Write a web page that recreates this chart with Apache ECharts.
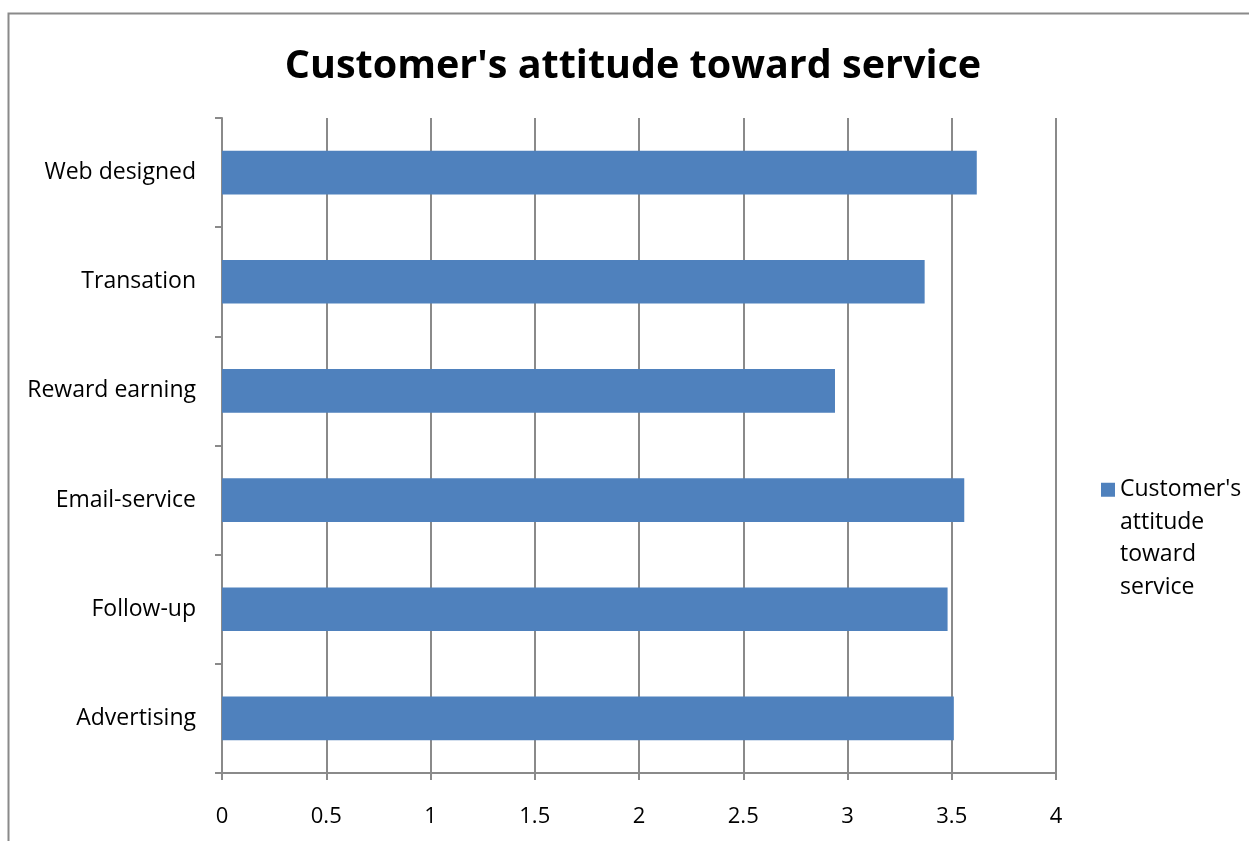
<!DOCTYPE html>
<html>
<head>
<meta charset="utf-8">
<script src="https://cdn.jsdelivr.net/npm/echarts@6/dist/echarts.min.js"></script>
<style>
  html, body { margin: 0; padding: 0; background: #ffffff; }
  #chart { width: 1249px; height: 841px; }
</style>
</head>
<body>
<div id="chart"></div>
<script>
// Service aspects, listed bottom-to-top as the category axis draws them
const categories = ['Advertising', 'Follow-up', 'Email-service', 'Reward earning', 'Transation', 'Web designed'];
// Mean attitude score for each aspect
const scores = [3.51, 3.48, 3.56, 2.94, 3.37, 3.62];
const seriesName = "Customer's attitude toward service";
const xTicks = [0, 0.5, 1, 1.5, 2, 2.5, 3, 3.5, 4];

const FONT = '"Open Sans", sans-serif';
const chart = echarts.init(document.getElementById('chart'), null, { renderer: 'canvas' });

chart.setOption({
  backgroundColor: '#ffffff',
  animation: false,
  title: {
    text: seriesName,
    left: 628,
    textAlign: 'center',
    top: 42,
    textStyle: { fontFamily: FONT, fontWeight: 'bold', fontSize: 39.5, color: '#000000' }
  },
  graphic: [{
    type: 'rect',
    shape: { x: 8.5, y: 13.5, width: 1400, height: 1000 },
    style: { fill: 'none', stroke: '#8a8a8a', lineWidth: 2 },
    silent: true,
    z: -1
  }],
  legend: {
    left: 1101,
    top: 376,
    padding: 0,
    orient: 'vertical',
    itemWidth: 14,
    itemHeight: 14,
    itemGap: 0,
    icon: 'rect',
    // three leading blank lines keep the first wrapped line level with the swatch
    formatter: () => "\n\n\nCustomer's\nattitude\ntoward\nservice",
    textStyle: { fontFamily: FONT, fontSize: 23, color: '#000000', lineHeight: 32.5 },
    data: [seriesName]
  },
  grid: { left: 222, right: 193, top: 118, bottom: 68, containLabel: false },
  xAxis: {
    type: 'value',
    min: 0,
    max: 4,
    interval: 0.5,
    axisLine: { show: true, lineStyle: { color: '#8a8a8a', width: 2 } },
    axisTick: { show: true, length: 7, lineStyle: { color: '#8a8a8a', width: 2 } },
    splitLine: { show: true, lineStyle: { color: '#8a8a8a', width: 2 } },
    axisLabel: {
      margin: 33,
      fontFamily: FONT,
      fontSize: 22,
      color: '#000000',
      formatter: v => String(xTicks.find(t => Math.abs(t - v) < 1e-9) ?? v)
    }
  },
  yAxis: {
    type: 'category',
    data: categories,
    axisLine: { show: true, lineStyle: { color: '#8a8a8a', width: 2 } },
    axisTick: { show: true, length: 7, lineStyle: { color: '#8a8a8a', width: 2 } },
    axisLabel: { margin: 26, fontFamily: FONT, fontSize: 23, color: '#000000', padding: [3, 0, 0, 0] }
  },
  series: [{
    name: seriesName,
    type: 'bar',
    data: scores,
    barCategoryGap: '60%',
    itemStyle: { color: '#4f81bd' }
  }]
});
</script>
</body>
</html>
